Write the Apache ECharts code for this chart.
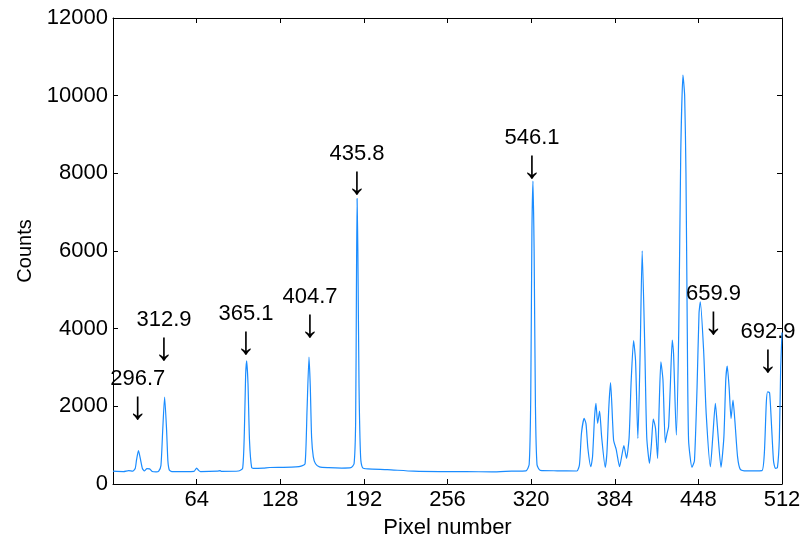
<!DOCTYPE html>
<html>
<head>
<meta charset="utf-8">
<script src="https://cdn.jsdelivr.net/npm/echarts@6/dist/echarts.min.js"></script>
<style>
  html, body { margin: 0; padding: 0; background: #fff; }
  #chart { width: 801px; height: 536px; }
</style>
</head>
<body>
<div id="chart"></div>
<script>
// spectrum: pixel index vs counts
const pixelIdx = [
  0, 8, 12, 15, 17, 18, 19.5, 21, 22.5, 24, 26, 28, 30, 33, 35, 36.7, 38, 39.5, 41, 42, 43.1, 45,
  55, 62, 64, 65.5, 67, 80, 82, 83, 96, 99.2, 100.5, 101.5, 102.3, 103.3, 104.5, 106.1, 108,
  115, 120, 130, 140, 144, 147, 148.5, 150, 151, 152, 153.3, 155, 158, 165, 175, 182, 184.5,
  185.7, 186.3, 186.8, 187.4, 188.3, 189.5, 191, 195, 210, 230, 250, 270, 290, 305, 316, 318.5,
  319.7, 320.6, 321.4, 322.3, 323.3, 324.5, 327, 340, 355,
  357, 358.5, 360.6, 362, 363.5, 365.7, 367, 368.5, 369.6, 370.9, 372.4, 374, 376.7, 378, 379.5,
  380.8, 383.1, 385.1, 387.7, 389.5, 391, 393, 395, 396.5, 398.4, 399.9, 401.7, 403.5, 405, 407,
  408.5, 410.6, 412, 413.5, 415.2, 416.8, 418, 419.3, 420.9, 422.7, 424, 425.2, 426.5, 428, 429,
  431.1, 433, 434.5, 436.2, 437.5, 438.5, 439.5, 440.5, 443.1, 445, 447, 448.5, 449.5, 452, 454,
  457.2, 459, 461, 462.5, 465.3, 467.5, 469, 470.1, 471.5, 473, 474.5, 476, 478, 480.1, 485, 490,
  496.7, 498.5, 500, 501, 502.5, 504, 505.5, 506.9, 508.5, 510, 511, 512
];
const countVals = [
  330, 320, 345, 330, 400, 620, 860, 640, 400, 335, 395, 390, 320, 310, 330, 480, 1350, 2240, 1400, 600, 360, 320,
  320, 325, 410, 350, 320, 330, 345, 325, 335, 400, 1300, 2800, 3170, 2600, 1100, 430, 400,
  410, 425, 430, 440, 460, 520, 1900, 3270, 2500, 1200, 700, 520, 440, 420, 410, 420, 520,
  1600, 5000, 7350, 6000, 2500, 700, 420, 390, 370, 330, 320, 320, 310, 330, 340, 500,
  2200, 6500, 7800, 6000, 2000, 500, 350, 340, 335,
  500, 1300, 1690, 1550, 900, 445, 700, 1700, 2077, 1562, 1879, 1200, 430, 800, 2000,
  2608, 1132, 892, 445, 750, 986, 660, 1200, 2600, 3690, 3190, 1175, 3500, 6005, 3500,
  1200, 532, 1000, 1673, 1433, 660, 2000, 3148, 2677, 1063, 1300, 1475, 2500, 3706, 3364,
  1261, 4000, 8500, 10528, 10000, 8000, 4000, 1132, 430, 600, 2500, 4400, 4692, 3449, 1800,
  445, 1200, 2077, 1500, 430, 1200, 2700, 3037, 2500, 1690, 2162, 1600, 700, 378, 340, 340,
  345, 800, 2100, 2376, 2350, 1500, 600, 404, 420, 1200, 3000, 3900
];

// wavelength annotations (nm): label, pixel of arrow, counts at arrow tip
const peakNames = ['296.7', '312.9', '365.1', '404.7', '435.8', '546.1', '659.9', '692.9'];
const peakPixel = [19, 39, 101.8, 150.8, 186.7, 320.7, 459.6, 501.3];
const arrowTip = [1725, 3245, 3400, 3837, 7520, 7930, 3914, 2936];

const xMin = 0, xMax = 512, xStep = 64;
const yMin = 0, yMax = 12000, yStep = 2000;

const font = 'Liberation Sans, Arial, sans-serif';
const spectrum = pixelIdx.map((p, i) => [p, countVals[i]]);
const marks = peakNames.map((n, i) => ({ name: n, value: [peakPixel[i], arrowTip[i]] }));

const chart = echarts.init(document.getElementById('chart'));

const boxAxis = {
  axisLine: { show: true, onZero: false, lineStyle: { color: '#000', width: 1 } },
  axisTick: { show: true, inside: true, length: 5, lineStyle: { color: '#000' } },
  axisLabel: { show: false },
  splitLine: { show: false }
};

chart.setOption({
  animation: false,
  backgroundColor: '#fff',
  grid: { left: 113, right: 19, top: 18, bottom: 52, outerBoundsMode: 'none', containLabel: false },
  xAxis: [
    {
      type: 'value', min: xMin, max: xMax, interval: xStep,
      name: 'Pixel number', nameLocation: 'middle', nameGap: 33,
      nameTextStyle: { color: '#000', fontSize: 22, fontFamily: font },
      axisLine: { show: true, onZero: false, lineStyle: { color: '#000', width: 1 } },
      axisTick: { show: true, inside: true, length: 5, lineStyle: { color: '#000' } },
      axisLabel: { color: '#000', fontSize: 22, fontFamily: font, margin: 5, showMinLabel: false },
      splitLine: { show: false }
    },
    Object.assign({ type: 'value', min: xMin, max: xMax, interval: xStep, position: 'top' }, boxAxis)
  ],
  yAxis: [
    {
      type: 'value', min: yMin, max: yMax, interval: yStep,
      name: 'Counts', nameLocation: 'middle', nameGap: 77,
      nameTextStyle: { color: '#000', fontSize: 20, fontFamily: font },
      axisLine: { show: true, onZero: false, lineStyle: { color: '#000', width: 1 } },
      axisTick: { show: true, inside: true, length: 5, lineStyle: { color: '#000' } },
      axisLabel: { color: '#000', fontSize: 22, fontFamily: font, margin: 5, formatter: v => String(v) },
      splitLine: { show: false }
    },
    Object.assign({ type: 'value', min: yMin, max: yMax, interval: yStep, position: 'right' }, boxAxis)
  ],
  series: [
    {
      type: 'line',
      data: spectrum,
      symbol: 'none',
      smooth: 0.2,
      lineStyle: { color: '#1a8cff', width: 1.2 },
      z: 3
    },
    {
      type: 'scatter',
      data: marks,
      symbolSize: 0,
      silent: true,
      itemStyle: { opacity: 1 },
      label: {
        show: true,
        position: 'top',
        distance: -8,
        color: '#000',
        formatter: p => '{t|' + p.name + '}\n{a|↓}',
        rich: {
          t: { fontSize: 22, fontFamily: font, color: '#000', lineHeight: 24, align: 'center' },
          a: { fontSize: 40, fontFamily: font, color: '#000', lineHeight: 34, align: 'center' }
        }
      },
      z: 4
    }
  ]
});
</script>
</body>
</html>
